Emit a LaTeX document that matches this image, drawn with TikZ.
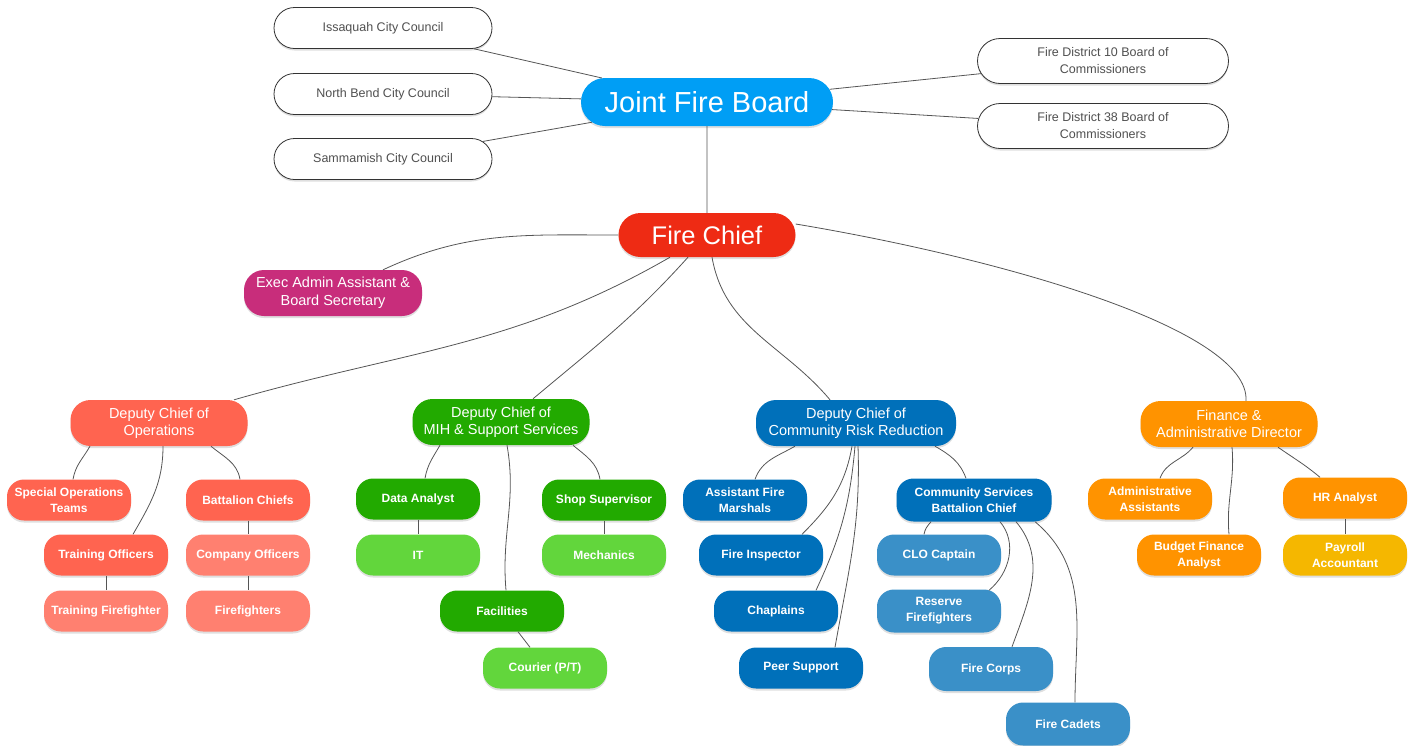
\documentclass[tikz,border=0pt]{standalone}
\usepackage{fontspec}
\setmainfont{Liberation Sans}
\usetikzlibrary{shapes.misc,shadows}
\definecolor{jfbblue}{HTML}{009EF5}
\definecolor{chiefred}{HTML}{EE2B14}
\definecolor{execmag}{HTML}{C82D7B}
\definecolor{opsdark}{HTML}{FF6450}
\definecolor{opslight}{HTML}{FF8070}
\definecolor{grdark}{HTML}{22AA00}
\definecolor{grlight}{HTML}{62D63C}
\definecolor{bldark}{HTML}{0070BA}
\definecolor{bllight}{HTML}{3A90C8}
\definecolor{ordark}{HTML}{FF9300}
\definecolor{yell}{HTML}{F5B700}
\definecolor{linegray}{HTML}{555555}
\definecolor{txtgray}{HTML}{505050}
\tikzset{
  shd/.style={drop shadow={opacity=0.25,shadow xshift=0pt,shadow yshift=-2pt}},
  council/.style={rounded rectangle, draw=black!80, line width=0.8pt, fill=white, minimum width=218pt, minimum height=41pt, inner sep=0pt, align=center, text=txtgray, font=\fontsize{12.5}{17}\selectfont, shd},
  bigbox/.style={rounded rectangle, minimum height=47pt, inner sep=0pt, text=white, shd},
  depbox/.style={rectangle, rounded corners=20pt, minimum width=177pt, minimum height=46pt, inner sep=0pt, align=center, text=white, font=\fontsize{14.5}{17}\selectfont, shd},
  leaf/.style={rectangle, rounded corners=17pt, minimum width=124pt, minimum height=41pt, inner sep=0pt, align=center, text=white, font=\fontsize{12}{16}\selectfont\bfseries, shd},
  conn/.style={draw=linegray, line width=0.8pt}
}
\begin{document}
\begin{tikzpicture}[x=1pt,y=-1pt]
\useasboundingbox (0,0) rectangle (1413,745);
% top level
\node[council] (iss) at (383,28) {Issaquah City Council};
\node[council] (nb) at (383,94) {North Bend City Council};
\node[council] (sam) at (383,159) {Sammamish City Council};
\node[council, minimum width=251pt, minimum height=45pt] (fd10) at (1103,61) {Fire District 10 Board of\\Commissioners};
\node[council, minimum width=251pt, minimum height=45pt] (fd38) at (1103,126) {Fire District 38 Board of\\Commissioners};
\node[bigbox, fill=jfbblue, minimum width=252pt, minimum height=48pt, font=\fontsize{29}{32}\selectfont] (jfb) at (707,102) {Joint Fire Board};
\node[bigbox, fill=chiefred, minimum width=177pt, minimum height=44pt, font=\fontsize{25.5}{28}\selectfont] (fc) at (707,235) {Fire Chief};
\node[depbox, fill=execmag, minimum width=178pt, font=\fontsize{14.5}{18}\selectfont] (exec) at (333,293) {Exec Admin Assistant \&\\Board Secretary};
% deputies
\node[depbox, fill=opsdark] (ops) at (159,423) {Deputy Chief of\\Operations};
\node[depbox, fill=grdark] (mih) at (501,422) {Deputy Chief of\\MIH \& Support Services};
\node[depbox, fill=bldark, minimum width=200pt] (crr) at (856,423) {Deputy Chief of\\Community Risk Reduction};
\node[depbox, fill=ordark] (fin) at (1229,424) {Finance \&\\Administrative Director};
% operations
\node[leaf, fill=opsdark] (so) at (69,500) {Special Operations\\Teams};
\node[leaf, fill=opsdark] (bc) at (248,500) {Battalion Chiefs};
\node[leaf, fill=opsdark] (to) at (106,555) {Training Officers};
\node[leaf, fill=opslight] (co) at (248,555) {Company Officers};
\node[leaf, fill=opslight] (tf) at (106,611) {Training Firefighter};
\node[leaf, fill=opslight] (ff) at (248,611) {Firefighters};
% MIH
\node[leaf, fill=grdark] (da) at (418,499) {Data Analyst};
\node[leaf, fill=grlight] (it) at (418,555) {IT};
\node[leaf, fill=grdark] (ss) at (604,500) {Shop Supervisor};
\node[leaf, fill=grlight] (mech) at (604,555) {Mechanics};
\node[leaf, fill=grdark] (fac) at (502,611) {Facilities};
\node[leaf, fill=grlight] (cou) at (545,668) {Courier (P/T)};
% CRR
\node[leaf, fill=bldark] (afm) at (745,500) {Assistant Fire\\Marshals};
\node[leaf, fill=bldark] (fi) at (761,555) {Fire Inspector};
\node[leaf, fill=bldark] (chap) at (776,611) {Chaplains};
\node[leaf, fill=bldark] (peer) at (801,668) {Peer Support};
\node[leaf, fill=bldark, minimum width=155pt, minimum height=43pt] (csbc) at (974,500) {Community Services\\Battalion Chief};
\node[leaf, fill=bllight] (clo) at (939,555) {CLO Captain};
\node[leaf, fill=bllight, minimum height=43pt] (rf) at (939,611) {Reserve\\Firefighters};
\node[leaf, fill=bllight, minimum height=44pt] (corps) at (991,669) {Fire Corps};
\node[leaf, fill=bllight, minimum height=43pt] (cad) at (1068,724) {Fire Cadets};
% finance
\node[leaf, fill=ordark] (aa) at (1150,499) {Administrative\\Assistants};
\node[leaf, fill=ordark] (hr) at (1345,498) {HR Analyst};
\node[leaf, fill=ordark] (bfa) at (1199,555) {Budget Finance\\Analyst};
\node[leaf, fill=yell] (pay) at (1345,555) {Payroll\\Accountant};
% connectors
\path[conn] (iss) -- (jfb);
\path[conn] (nb) -- (jfb);
\path[conn] (sam) -- (jfb);
\path[conn] (jfb) -- (fd10);
\path[conn] (jfb) -- (fd38);
\path[conn] (jfb) -- (fc);
\path[conn] (fc.west) to[out=180,in=25] ([xshift=50pt]exec.north);
\path[conn] ([xshift=-37pt]fc.south) to[out=210,in=16] ([xshift=75pt]ops.north);
\path[conn] ([xshift=-19pt]fc.south) to[out=228,in=40] ([xshift=32pt]mih.north);
\path[conn] ([xshift=5pt]fc.south) to[out=-80,in=130] ([xshift=-26pt]crr.north);
\path[conn] ([yshift=11pt]fc.east) .. controls +(204,34) and +(4,-72) .. ([xshift=17pt]fin.north);
% ops
\path[conn] ([xshift=-69pt]ops.south) to[out=-120,in=80] ([xshift=4pt]so.north);
\path[conn] ([xshift=4pt]ops.south) to[out=-90,in=60] ([xshift=27pt]to.north);
\path[conn] ([xshift=52pt]ops.south) to[out=-40,in=100] ([xshift=-8pt]bc.north);
\path[conn] (bc) -- (co);
\path[conn] (co) -- (ff);
\path[conn] (to) -- (tf);
% mih
\path[conn] ([xshift=-61pt]mih.south) to[out=-120,in=80] ([xshift=7pt]da.north);
\path[conn] ([xshift=6pt]mih.south) to[out=-80,in=95] ([xshift=4pt]fac.north);
\path[conn] ([xshift=72pt]mih.south) to[out=-40,in=100] ([xshift=-4pt]ss.north);
\path[conn] (da) -- (it);
\path[conn] (ss) -- (mech);
\path[conn] ([xshift=16pt]fac.south) -- ([xshift=-15pt]cou.north);
% crr
\path[conn] ([xshift=-61pt]crr.south) to[out=-150,in=70] ([xshift=10pt]afm.north);
\path[conn] ([xshift=-4pt]crr.south) to[out=-100,in=45] ([xshift=41pt]fi.north);
\path[conn] ([xshift=-1pt]crr.south) to[out=-95,in=65] ([xshift=40pt]chap.north);
\path[conn] ([xshift=2pt]crr.south) to[out=-88,in=80] ([xshift=34pt]peer.north);
\path[conn] ([xshift=79pt]crr.south) to[out=-30,in=110] ([xshift=-8pt]csbc.north);
\path[conn] ([xshift=-43pt]csbc.south) to[out=-130,in=80] ([xshift=-15pt]clo.north);
\path[conn] ([xshift=26pt]csbc.south) to[out=-50,in=40] ([xshift=50pt,yshift=-1pt]rf.north);
\path[conn] ([xshift=42pt]csbc.south) to[out=-50,in=70] ([xshift=21pt]corps.north);
\path[conn] ([xshift=61pt]csbc.south) to[out=-40,in=90] ([xshift=7pt]cad.north);
% finance
\path[conn] ([xshift=-36pt]fin.south) to[out=-130,in=70] ([xshift=10pt]aa.north);
\path[conn] ([xshift=3pt]fin.south) to[out=-85,in=95] ([xshift=30pt]bfa.north);
\path[conn] ([xshift=49pt]fin.south) to[out=-35,in=140] ([xshift=-25pt]hr.north);
\path[conn] (hr) -- (pay);
\end{tikzpicture}
\end{document}
